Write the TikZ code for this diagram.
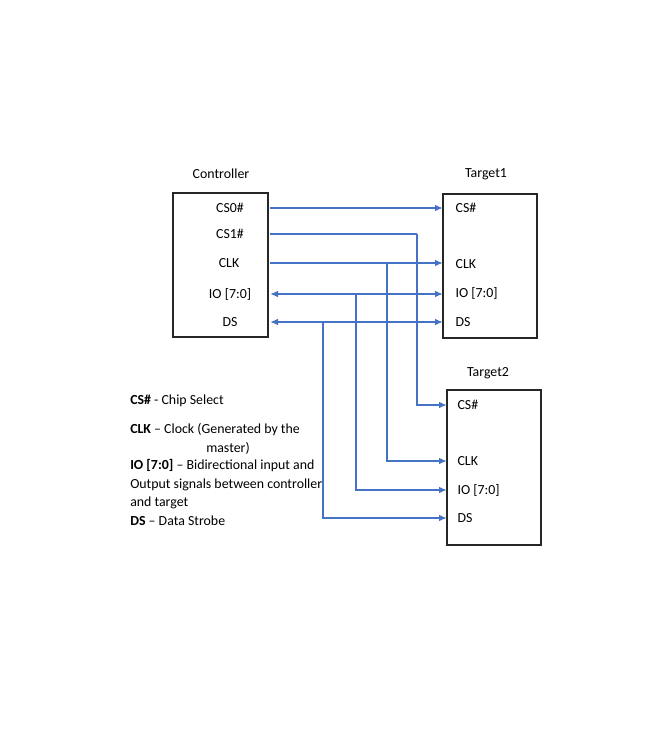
\documentclass[tikz,border=0pt]{standalone}
\usepackage{fontspec}
\setmainfont{Carlito}
\usepackage{tikz}
\usetikzlibrary{positioning}
\usetikzlibrary{arrows.meta}

\definecolor{wireblue}{HTML}{4472C4}

\begin{document}
\begin{tikzpicture}[x=0.75pt, y=-0.75pt, font=\fontsize{10.4}{12.5}\selectfont,
            chip/.style = {draw=black!85, line width=0.9pt, inner sep=0pt, outer sep=0pt, minimum width=70.5pt},
            pin/.style = {inner sep=1pt},
            tpin/.style = {inner sep=1pt, anchor=west},
            legend/.style = {inner sep=0pt, anchor=west},
            sig/.style = {draw=wireblue, line width=1.4pt},
            to/.style = {sig, -{Latex[length=6pt, width=5pt]}},
            both/.style = {sig, {Latex[length=6pt, width=5pt]}-{Latex[length=6pt, width=5pt]}}]
            \useasboundingbox (0,0) rectangle (650,741);
            % Nodes
            \node[chip, minimum width=71.25pt, minimum height=108pt] (ctrl) at (220.5,265) {};
            \node[chip, minimum height=108pt] (t1) at (490,266) {};
            \node[chip, minimum height=116.25pt] (t2) at (494,467.5) {};
            \node (ctrltitle) at (221,174) {Controller};
            \node (t1title) at (486,174) {Target1};
            \node (t2title) at (488,373) {Target2};
            % Controller pins
            \node[pin] (cs0) at (230,208) {CS0\#};
            \node[pin] (cs1) at (230,234) {CS1\#};
            \node[pin] (clk) at (229,263) {CLK};
            \node[pin] (io) at (230,294) {IO [7:0]};
            \node[pin] (ds) at (230,322) {DS};
            % Target pins
            \node[tpin] (t1cs) at (454,208) {CS\#};
            \node[tpin] (t1clk) at (454,264) {CLK};
            \node[tpin] (t1io) at (454,293) {IO [7:0]};
            \node[tpin] (t1ds) at (454,322) {DS};
            \node[tpin] (t2cs) at (456,405) {CS\#};
            \node[tpin] (t2clk) at (456,461) {CLK};
            \node[tpin] (t2io) at (456,490) {IO [7:0]};
            \node[tpin] (t2ds) at (456,518) {DS};
            % Branch points
            \coordinate (jcs) at (417,234);
            \coordinate (jclk) at (387,263);
            \coordinate (jio) at (356,294);
            \coordinate (jds) at (323,322);
            % Edges
            \draw[to] ([xshift=1.5pt]ctrl.east |- cs0) -- (t1.west |- cs0);
            \draw[sig] ([xshift=1.5pt]ctrl.east |- cs1) -- (jcs);
            \draw[to] (jcs) |- (t2.west |- t2cs);
            \draw[to] ([xshift=1.5pt]ctrl.east |- clk) -- (t1.west |- clk);
            \draw[to] (jclk) |- (t2.west |- t2clk);
            \draw[both] ([xshift=1.5pt]ctrl.east |- io) -- (t1.west |- io);
            \draw[to] (jio) |- (t2.west |- t2io);
            \draw[both] ([xshift=1.5pt]ctrl.east |- ds) -- (t1.west |- ds);
            \draw[to] (jds) |- (t2.west |- t2ds);
            % Legend
            \node[legend] (lcs) at (130,401) {\textbf{CS\#} - Chip Select};
            \node[legend] (lclk) at (130,430) {\textbf{CLK} -- Clock (Generated by the};
            \node[legend] (lclkb) at (206,448) {master)};
            \node[legend] (lio) at (130,466) {\textbf{IO [7:0]} -- Bidirectional input and};
            \node[legend] (liob) at (130,485) {Output signals between controller};
            \node[legend] (lioc) at (130,503) {and target};
            \node[legend] (lds) at (130,521) {\textbf{DS} -- Data Strobe};
\end{tikzpicture}
\end{document}
